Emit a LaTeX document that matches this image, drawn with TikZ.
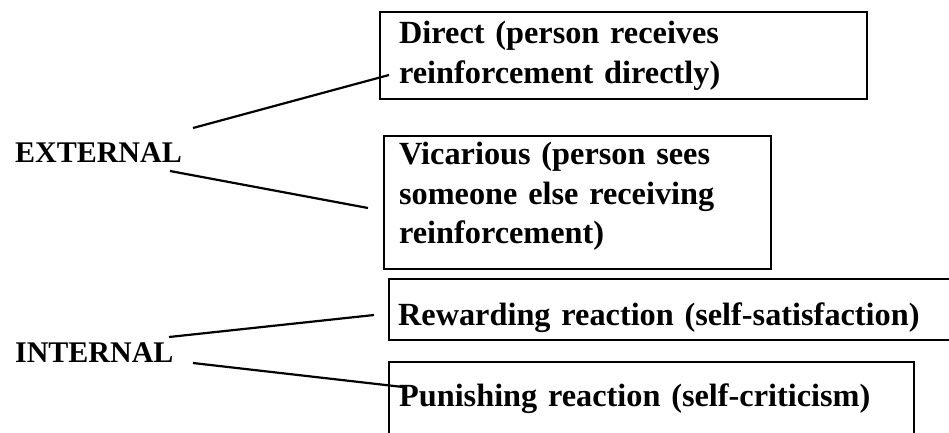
\documentclass[tikz,border=0pt]{standalone}
\usepackage{fontspec}
\setmainfont{Liberation Serif}

\begin{document}
\begin{tikzpicture}[x=1pt, y=-1pt, line width=2.2pt,
   box/.style={rectangle, draw, anchor=north west, align=left, inner ysep=0pt, font=\fontsize{32.3}{39.5}\selectfont\bfseries},
   side/.style={anchor=base west, inner sep=0pt, font=\fontsize{30}{35}\selectfont\bfseries}]
   \useasboundingbox (0,0) rectangle (949,432);
   \clip (0,0) rectangle (949,432);
   \node[side] (external) at (14,162) {EXTERNAL};
   \node[side] (internal) at (14,362) {INTERNAL};
   \node[box, minimum width=487pt, minimum height=87pt, inner xsep=19pt, text width=449pt] (direct) at (379,11) {Direct (person receives\\reinforcement directly)};
   \node[box, minimum width=387pt, minimum height=133pt, inner xsep=15pt, text width=357pt] (vicarious) at (383,135) {Vicarious (person sees\\someone else receiving\\reinforcement)\rule[-19pt]{0pt}{0pt}};
   \node[box, minimum width=580pt, minimum height=61pt, inner xsep=9pt, text width=562pt] (rewarding) at (388,278) {\rule{0pt}{39pt}Rewarding reaction (self-satisfaction)};
   \node[box, minimum width=525pt, minimum height=106pt, inner xsep=10pt, text width=505pt] (punishing) at (388,361) {Punishing reaction (self-criticism)\\ \mbox{}};
   \coordinate (ext-up) at (193,128);
   \coordinate (ext-down) at (170,171);
   \coordinate (int-up) at (169,337);
   \coordinate (int-down) at (193,363);
   \coordinate (direct-in) at (389,75);
   \coordinate (vicarious-in) at (368,208);
   \coordinate (rewarding-in) at (374,315);
   \coordinate (punishing-in) at (403,387);
   \draw (ext-up) -- (direct-in);
   \draw (ext-down) -- (vicarious-in);
   \draw (int-up) -- (rewarding-in);
   \draw (int-down) -- (punishing-in);
\end{tikzpicture}
\end{document}
